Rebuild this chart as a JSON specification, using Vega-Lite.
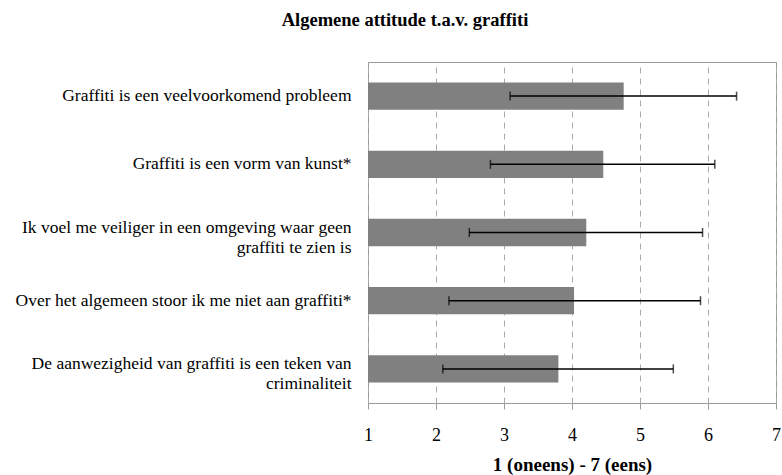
{
  "$schema": "https://vega.github.io/schema/vega-lite/v6.json",
  "width": 408,
  "height": 341,
  "autosize": {"type": "none"},
  "padding": {"left": 368, "top": 62, "right": 6, "bottom": 72},
  "background": "white",
  "title": {
    "text": "Algemene attitude t.a.v. graffiti",
    "font": "Times New Roman, Liberation Serif, serif",
    "fontSize": 18.5,
    "fontWeight": "bold",
    "color": "black",
    "anchor": "middle",
    "dx": -167,
    "baseline": "alphabetic",
    "offset": 18
  },
  "config": {
    "view": {"stroke": "#999999", "strokeWidth": 1},
    "font": "Times New Roman, Liberation Serif, serif"
  },
  "data": {
    "values": [
      {"stelling": "Graffiti is een veelvoorkomend probleem", "gemiddelde": 4.76, "laag": 3.09, "hoog": 6.42},
      {"stelling": "Graffiti is een vorm van kunst*", "gemiddelde": 4.46, "laag": 2.80, "hoog": 6.10},
      {"stelling": "Ik voel me veiliger in een omgeving waar geen|graffiti te zien is", "gemiddelde": 4.21, "laag": 2.49, "hoog": 5.92},
      {"stelling": "Over het algemeen stoor ik me niet aan graffiti*", "gemiddelde": 4.03, "laag": 2.19, "hoog": 5.89},
      {"stelling": "De aanwezigheid van graffiti is een teken van|criminaliteit", "gemiddelde": 3.80, "laag": 2.10, "hoog": 5.49}
    ]
  },
  "encoding": {
    "y": {
      "field": "stelling",
      "type": "nominal",
      "sort": null,
      "scale": {"paddingInner": 0.6, "paddingOuter": 0.3},
      "axis": {
        "title": null,
        "domain": false,
        "ticks": false,
        "labelPadding": 17,
        "labelFont": "Times New Roman, Liberation Serif, serif",
        "labelFontSize": 17.5,
        "labelColor": "black",
        "labelLimit": 400,
        "labelLineHeight": 20,
        "labelAlign": "right",
        "labelBaseline": "middle",
        "labelOffset": {"condition": {"test": "indexof(datum.value, '|') >= 0", "value": -5}, "value": 0},
        "labelExpr": "split(datum.label, '|')"
      }
    }
  },
  "layer": [
    {
      "mark": {"type": "bar", "color": "#808080"},
      "encoding": {
        "x": {
          "field": "gemiddelde",
          "type": "quantitative",
          "scale": {"domain": [1, 7], "zero": false, "nice": false},
          "axis": {
            "title": "1 (oneens) - 7 (eens)",
            "titleFont": "Times New Roman, Liberation Serif, serif",
            "titleFontSize": 19,
            "titleFontWeight": "bold",
            "titleColor": "black",
            "titlePadding": 11,
            "values": [1, 2, 3, 4, 5, 6, 7],
            "format": "d",
            "domain": false,
            "tickSize": 6,
            "tickColor": "#999999",
            "labelPadding": 17,
            "labelFont": "Times New Roman, Liberation Serif, serif",
            "labelFontSize": 18,
            "labelColor": "black",
            "labelFlush": false,
            "grid": true,
            "gridColor": "#aaaaaa",
            "gridDash": [6, 5],
            "gridWidth": 1
          }
        },
        "x2": {"datum": 1}
      }
    },
    {
      "mark": {"type": "rule", "color": "black", "strokeWidth": 1.5},
      "encoding": {
        "x": {"field": "laag", "type": "quantitative"},
        "x2": {"field": "hoog"}
      }
    },
    {
      "mark": {"type": "tick", "color": "black", "thickness": 1.5, "size": 9, "orient": "vertical"},
      "encoding": {
        "x": {"field": "laag", "type": "quantitative"}
      }
    },
    {
      "mark": {"type": "tick", "color": "black", "thickness": 1.5, "size": 9, "orient": "vertical"},
      "encoding": {
        "x": {"field": "hoog", "type": "quantitative"}
      }
    }
  ]
}
